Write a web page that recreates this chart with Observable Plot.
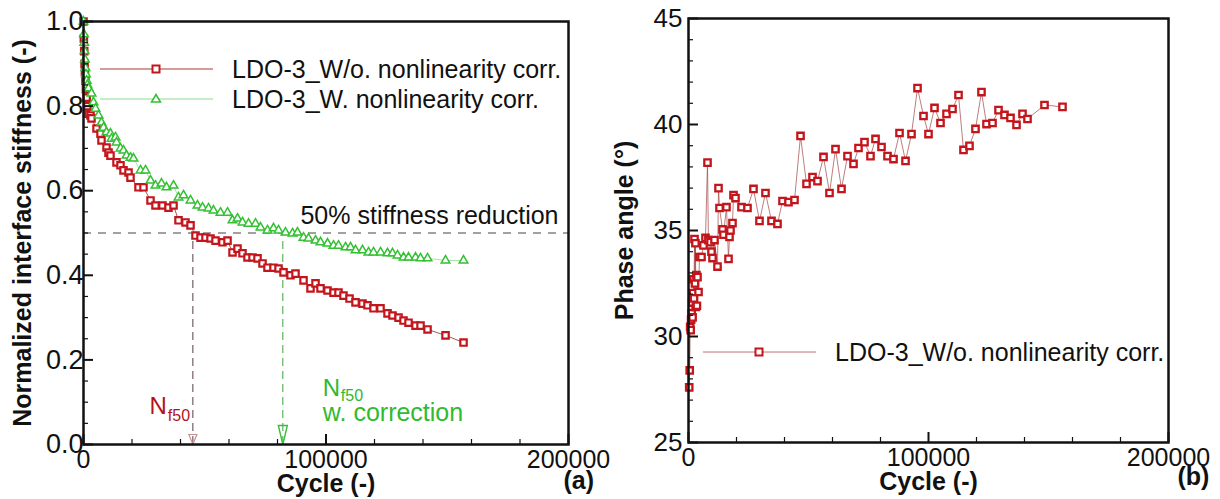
<!DOCTYPE html>
<html><head><meta charset="utf-8">
<script src="https://cdn.jsdelivr.net/npm/d3@7"></script>
<script src="https://cdn.jsdelivr.net/npm/@observablehq/plot@0.6"></script>
<style>
html,body{margin:0;padding:0;background:#fff;}
#wrap{position:relative;width:1220px;height:499px;overflow:hidden;font-family:"Liberation Sans",Arial,sans-serif;}
#left{position:absolute;left:0;top:0;}
#right{position:absolute;left:610px;top:0;}
.leg{position:absolute;display:flex;align-items:center;height:30px;font-size:25px;color:#111;white-space:nowrap;}
.leg svg{display:block;}
</style></head><body>
<div id="wrap"><div id="left"></div><div id="right"></div></div>
<script>
// ---------- data ----------
const redCycles = [0,150,300,450,600,800,1000,1300,1600,2060,2890,3300,5360,7010,7420,9490,10310,11130,13610,15260,16500,18560,19380,22680,24740,27630,29690,32580,35050,37120,39180,42060,44130,46190,48250,50310,52370,54440,57320,59390,61450,63510,65570,67630,69700,71760,73820,75880,78360,80420,82480,85370,87430,90730,93610,95680,97740,100630,103100,105160,107220,109700,112170,115060,117120,119600,122480,125370,127430,129910,131970,134030,136920,138980,141870,149290,156710];
const redStiffness = [1.000,0.960,0.930,0.900,0.880,0.860,0.840,0.820,0.800,0.782,0.778,0.771,0.747,0.735,0.719,0.702,0.690,0.683,0.667,0.660,0.648,0.643,0.631,0.608,0.608,0.577,0.565,0.565,0.560,0.565,0.530,0.525,0.518,0.494,0.489,0.489,0.487,0.482,0.478,0.482,0.454,0.463,0.452,0.442,0.442,0.440,0.428,0.418,0.418,0.416,0.407,0.400,0.404,0.388,0.369,0.381,0.369,0.364,0.359,0.359,0.352,0.345,0.336,0.333,0.329,0.322,0.322,0.310,0.305,0.300,0.293,0.288,0.281,0.281,0.272,0.258,0.241];

const greenCycles = [0,150,300,450,600,800,1000,1300,1600,2060,3300,4120,4950,6190,7420,8250,9490,11130,11550,13200,13610,15260,16500,17730,19380,20620,23510,25570,27630,29690,32170,34230,37120,39180,41240,44130,47010,49080,51550,53610,56500,59390,61450,63510,65570,68050,70930,73000,75880,78360,80420,83300,86190,88250,90730,92790,95680,97740,100630,103100,105160,108050,110110,112170,115060,117530,119600,122480,125370,127430,129500,131970,134030,136920,138980,141870,149290,156710];
const greenStiffness = [1.000,0.970,0.950,0.930,0.910,0.890,0.875,0.860,0.850,0.842,0.830,0.809,0.794,0.778,0.761,0.749,0.738,0.735,0.723,0.726,0.714,0.700,0.695,0.683,0.678,0.676,0.648,0.648,0.624,0.612,0.617,0.608,0.612,0.584,0.589,0.577,0.565,0.560,0.558,0.553,0.548,0.548,0.530,0.534,0.525,0.522,0.522,0.513,0.506,0.511,0.506,0.501,0.499,0.501,0.489,0.487,0.482,0.478,0.475,0.470,0.470,0.466,0.466,0.459,0.459,0.454,0.454,0.454,0.452,0.452,0.447,0.442,0.442,0.442,0.440,0.440,0.435,0.435];

const phaseCycles = [300,500,700,900,1100,1300,1500,1700,1900,2100,2300,2500,2700,2900,3100,3300,3500,3750,4170,4580,5420,6250,7080,7920,8300,9170,9580,10000,10830,12080,12500,12920,14170,14580,15830,16670,17080,17500,18330,18750,19580,22080,24580,27080,29580,32080,34580,37080,39170,41670,44170,46670,49170,51670,53750,56250,58750,61250,63750,66250,68750,70830,73330,75830,77920,80420,82920,85420,87920,90420,92920,95420,97920,100000,102500,105000,107500,110000,112500,114580,117080,119580,122080,124170,126670,129170,131670,134170,136670,139170,141250,148330,155830];
const phaseAngles = [27.6,28.4,30.45,30.3,30.8,31.1,31.6,30.9,32.05,32.7,31.8,34.6,32.5,34.4,31.4,32.9,31.45,32.8,32.1,33.75,33.75,34.3,34.65,38.2,34.55,34.45,34.0,33.7,34.55,33.3,37.0,36.06,35.05,34.8,36.1,33.66,34.7,35.0,35.35,36.67,36.53,36.1,36.06,36.96,35.45,36.77,35.45,35.31,36.39,36.34,36.44,39.46,37.2,37.52,37.33,38.47,36.77,38.84,36.96,38.51,38.14,38.89,39.17,38.51,39.32,38.94,38.51,38.37,39.6,38.28,39.55,41.72,40.4,39.55,40.78,40.07,40.5,40.73,41.39,38.8,38.99,39.79,41.53,40.02,40.07,40.68,40.45,40.31,39.98,40.5,40.26,40.92,40.83];

const seriesNames = ["LDO-3_W/o. nonlinearity corr.", "LDO-3_W. nonlinearity corr."];
const nf50Cycles = [45100, 82200];          // red (w/o), green (w.)
const reductionLevel = 0.5;
const reductionLabel = "50% stiffness reduction";
const cycleDomain = [0, 200000];
const cycleMajorTicks = [0, 100000, 200000];
const cycleMinorTicks = [20000,40000,60000,80000,120000,140000,160000,180000];
const stiffDomain = [0, 1];
const stiffMajorTicks = [0, 0.2, 0.4, 0.6, 0.8, 1.0];
const stiffMinorTicks = [0.05,0.1,0.15,0.25,0.3,0.35,0.45,0.5,0.55,0.65,0.7,0.75,0.85,0.9,0.95];
const phaseDomain = [25, 45];
const phaseMajorTicks = [25, 30, 35, 40, 45];
const phaseMinorTicks = [26,27,28,29,31,32,33,34,36,37,38,39,41,42,43,44];
const xTitle = "Cycle (-)";
const yTitleA = "Normalized interface stiffness (-)";
const yTitleB = "Phase angle (°)";
const panelLabels = ["(a)", "(b)"];

// ---------- styling ----------
const FONT = '"Liberation Sans", Arial, sans-serif';
const RED = "#c3161c", RED_LINE = "#8e2a2a", GREEN = "#33c033", GREEN_LINE = "#8ddc8d";
const red = redCycles.map((c, i) => ({c, v: redStiffness[i]}));
const green = greenCycles.map((c, i) => ({c, v: greenStiffness[i]}));
const phase = phaseCycles.map((c, i) => ({c, v: phaseAngles[i]}));
const downTri = (w, h) => ({draw(ctx) { ctx.moveTo(-w/2, -h); ctx.lineTo(w/2, -h); ctx.lineTo(0, 0); ctx.closePath(); }});

function axes(majorY, minorY, fmtY, padY, sizeY) {
  return [
    Plot.axisY(majorY, {anchor: "left", tickSize: -10, tickPadding: padY, tickFormat: fmtY, label: null, strokeWidth: 2, fontSize: sizeY}),
    Plot.axisY(minorY, {anchor: "left", tickSize: -5, tickPadding: 0, tickFormat: () => "", label: null, strokeWidth: 1.2}),
    Plot.axisX(cycleMajorTicks, {anchor: "bottom", tickSize: -10, tickPadding: 16, tickFormat: d => String(d), label: null, strokeWidth: 2, fontSize: 25}),
    Plot.axisX(cycleMinorTicks, {anchor: "bottom", tickSize: -5, tickPadding: 0, tickFormat: () => "", label: null, strokeWidth: 1.2}),
    Plot.frame({stroke: "#111", strokeWidth: 2.5})
  ];
}

const nfRed = [{c: nf50Cycles[0]}], nfGreen = [{c: nf50Cycles[1]}];

const left = Plot.plot({
  width: 610, height: 499,
  marginLeft: 83, marginRight: 42, marginTop: 21, marginBottom: 55,
  x: {domain: cycleDomain},
  y: {domain: stiffDomain},
  style: {fontFamily: FONT, fontSize: "25px", color: "#111", background: "white", overflow: "visible"},
  marks: [
    Plot.ruleY([reductionLevel], {stroke: "#444", strokeWidth: 1, strokeDasharray: "8,7"}),
    Plot.ruleX(nfRed, {x: "c", y1: 0, y2: reductionLevel, stroke: "#5a3a45", strokeWidth: 1, strokeDasharray: "8,5"}),
    Plot.ruleX(nfGreen, {x: "c", y1: 0, y2: reductionLevel, stroke: "#3aa53a", strokeWidth: 1, strokeDasharray: "8,5"}),
    Plot.dot(nfRed, {x: "c", y: 0, symbol: downTri(8, 10), r: 5, stroke: "#c99090", strokeWidth: 1.2, fill: "none"}),
    Plot.dot(nfGreen, {x: "c", y: 0, symbol: downTri(9, 19), r: 5, stroke: "#3cbc3c", strokeWidth: 1.4, fill: "none"}),
    Plot.line(red, {x: "c", y: "v", stroke: RED_LINE, strokeWidth: 0.8}),
    Plot.dot(red, {x: "c", y: "v", symbol: "square", r: 3.6, stroke: RED, strokeWidth: 2.2, fill: "#fff"}),
    Plot.line(green, {x: "c", y: "v", stroke: GREEN_LINE, strokeWidth: 0.8}),
    Plot.dot(green, {x: "c", y: "v", symbol: "triangle", r: 3.2, stroke: GREEN, strokeWidth: 1.5, fill: "#fff"}),
    Plot.text([reductionLabel], {x: cycleDomain[1], y: reductionLevel, textAnchor: "end", lineAnchor: "bottom", dx: -10, dy: -9, fontSize: 25, fill: "#111"}),
    Plot.text(nfRed, {x: "c", y: 0, text: () => "N", textAnchor: "end", lineAnchor: "bottom", dx: -26, dy: -31, fontSize: 24, fill: "#b3141b"}),
    Plot.text(nfRed, {x: "c", y: 0, text: () => "f50", textAnchor: "start", lineAnchor: "bottom", dx: -25, dy: -24, fontSize: 16, fill: "#b3141b"}),
    Plot.text(nfGreen, {x: "c", y: 0, text: () => "N", textAnchor: "start", lineAnchor: "bottom", dx: 40, dy: -49, fontSize: 24, fill: "#2fba2f"}),
    Plot.text(nfGreen, {x: "c", y: 0, text: () => "f50", textAnchor: "start", lineAnchor: "bottom", dx: 58, dy: -44, fontSize: 16, fill: "#2fba2f"}),
    Plot.text(nfGreen, {x: "c", y: 0, text: () => "w. correction", textAnchor: "start", lineAnchor: "bottom", dx: 40, dy: -24, fontSize: 25, fill: "#2fba2f"}),
    ...axes(stiffMajorTicks, stiffMinorTicks, d => d.toFixed(1), 10, 27),
    Plot.text([yTitleA], {frameAnchor: "left", rotate: -90, dx: -61, textAnchor: "middle", lineAnchor: "middle", fontWeight: "bold", fontSize: 25, fill: "#111"}),
    Plot.text([xTitle], {frameAnchor: "bottom", dy: 39, textAnchor: "middle", lineAnchor: "middle", fontWeight: "bold", fontSize: 25, fill: "#111"}),
    Plot.text([panelLabels[0]], {frameAnchor: "bottom-right", dx: -5, dy: 36, textAnchor: "start", lineAnchor: "middle", fontWeight: "bold", fontSize: 25, fill: "#111"})
  ]
});
document.getElementById("left").appendChild(left);

const right = Plot.plot({
  width: 610, height: 499,
  marginLeft: 78, marginRight: 52, marginTop: 18, marginBottom: 57,
  x: {domain: cycleDomain},
  y: {domain: phaseDomain},
  style: {fontFamily: FONT, fontSize: "25px", color: "#111", background: "white", overflow: "visible"},
  marks: [
    Plot.line(phase, {x: "c", y: "v", stroke: "#a04545", strokeWidth: 0.7}),
    Plot.dot(phase, {x: "c", y: "v", symbol: "square", r: 3.6, stroke: RED, strokeWidth: 2.3, fill: "#fff"}),
    ...axes(phaseMajorTicks, phaseMinorTicks, d => String(d), 16, 26),
    Plot.text([yTitleB], {frameAnchor: "left", rotate: -90, dx: -64, textAnchor: "middle", lineAnchor: "middle", fontWeight: "bold", fontSize: 25, fill: "#111"}),
    Plot.text([xTitle], {frameAnchor: "bottom", dy: 39, textAnchor: "middle", lineAnchor: "middle", fontWeight: "bold", fontSize: 25, fill: "#111"}),
    Plot.text([panelLabels[1]], {frameAnchor: "bottom-right", dx: 9, dy: 34, textAnchor: "start", lineAnchor: "middle", fontWeight: "bold", fontSize: 25, fill: "#111"})
  ]
});
document.getElementById("right").appendChild(right);

// ---------- legends ----------
function legendRow(left, centerY, lineColor, markerColor, shape, label) {
  const d = document.createElement("div");
  d.className = "leg";
  d.style.left = left + "px";
  d.style.top = (centerY - 15) + "px";
  const marker = shape === "square"
    ? `<rect x="52.5" y="6.5" width="7" height="7" fill="#fff" stroke="${markerColor}" stroke-width="2"/>`
    : `<path d="M56,5.5 L60.5,13 L51.5,13 Z" fill="#fff" stroke="${markerColor}" stroke-width="1.5"/>`;
  d.innerHTML = `<svg width="113" height="20"><line x1="0" y1="10" x2="113" y2="10" stroke="${lineColor}" stroke-width="1"/>${marker}</svg><span style="margin-left:19px">${label}</span>`;
  document.getElementById("wrap").appendChild(d);
}
legendRow(100, 69, "#a83a3a", RED, "square", seriesNames[0]);
legendRow(100, 99, GREEN_LINE, GREEN, "triangle", seriesNames[1]);
legendRow(703, 352, "#c07070", RED, "square", seriesNames[0]);
</script>
</body></html>
